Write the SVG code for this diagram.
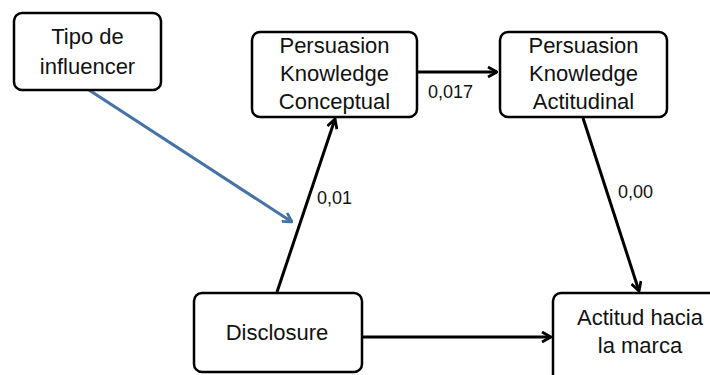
<svg xmlns="http://www.w3.org/2000/svg" width="710" height="375" viewBox="0 0 710 375">
<style>
.box{fill:#fff;stroke:#000;stroke-width:2.5}
.t{font-family:"Liberation Sans",Arial,sans-serif;font-size:22px;fill:#111;text-anchor:middle}
.lbl{font-family:"Liberation Sans",Arial,sans-serif;font-size:18px;fill:#111}
.c{fill:none;stroke:#000;stroke-width:3}
.cb{fill:none;stroke:#4672A6;stroke-width:3}
</style>
<defs>
<marker id="ah" viewBox="0 0 12 12" refX="11" refY="6" markerWidth="12" markerHeight="12" markerUnits="userSpaceOnUse" orient="auto">
<path d="M2,1 L11,6 L2,11" fill="none" stroke="#000" stroke-width="2.8" stroke-linejoin="miter"/>
</marker>
<marker id="ahb" viewBox="0 0 12 12" refX="11" refY="6" markerWidth="12" markerHeight="12" markerUnits="userSpaceOnUse" orient="auto">
<path d="M2,1 L11,6 L2,11" fill="none" stroke="#4672A6" stroke-width="2.8" stroke-linejoin="miter"/>
</marker>
</defs>
<g id="connectors">
<line class="cb" x1="89" y1="90" x2="292" y2="222" marker-end="url(#ahb)"/>
<line class="c" x1="277" y1="292" x2="335" y2="119" marker-end="url(#ah)"/>
<line class="c" x1="418" y1="72" x2="497" y2="72" marker-end="url(#ah)"/>
<line class="c" x1="583" y1="118" x2="639" y2="291" marker-end="url(#ah)"/>
<line class="c" x1="362" y1="337" x2="551" y2="337" marker-end="url(#ah)"/>
<text class="lbl" x="317" y="204">0,01</text>
<text class="lbl" x="428" y="98">0,017</text>
<text class="lbl" x="618" y="198">0,00</text>
</g>
<g id="tipo">
<rect class="box" x="14" y="13" width="147" height="77" rx="8"/>
<text class="t" x="87.5" y="44">Tipo de</text>
<text class="t" x="87.5" y="74">influencer</text>
</g>
<g id="pkc">
<rect class="box" x="252" y="32" width="165" height="85" rx="8"/>
<text class="t" x="334.5" y="53">Persuasion</text>
<text class="t" x="334.5" y="81">Knowledge</text>
<text class="t" x="334.5" y="109">Conceptual</text>
</g>
<g id="pka">
<rect class="box" x="500" y="32" width="167" height="85" rx="8"/>
<text class="t" x="583.5" y="53">Persuasion</text>
<text class="t" x="583.5" y="81">Knowledge</text>
<text class="t" x="583.5" y="109">Actitudinal</text>
</g>
<g id="disclosure">
<rect class="box" x="194" y="293" width="168" height="79" rx="8"/>
<text class="t" x="277" y="340">Disclosure</text>
</g>
<g id="actitud">
<rect class="box" x="553" y="293" width="175" height="90" rx="8"/>
<text class="t" x="640" y="325">Actitud hacia</text>
<text class="t" x="640" y="353">la marca</text>
</g>
</svg>
